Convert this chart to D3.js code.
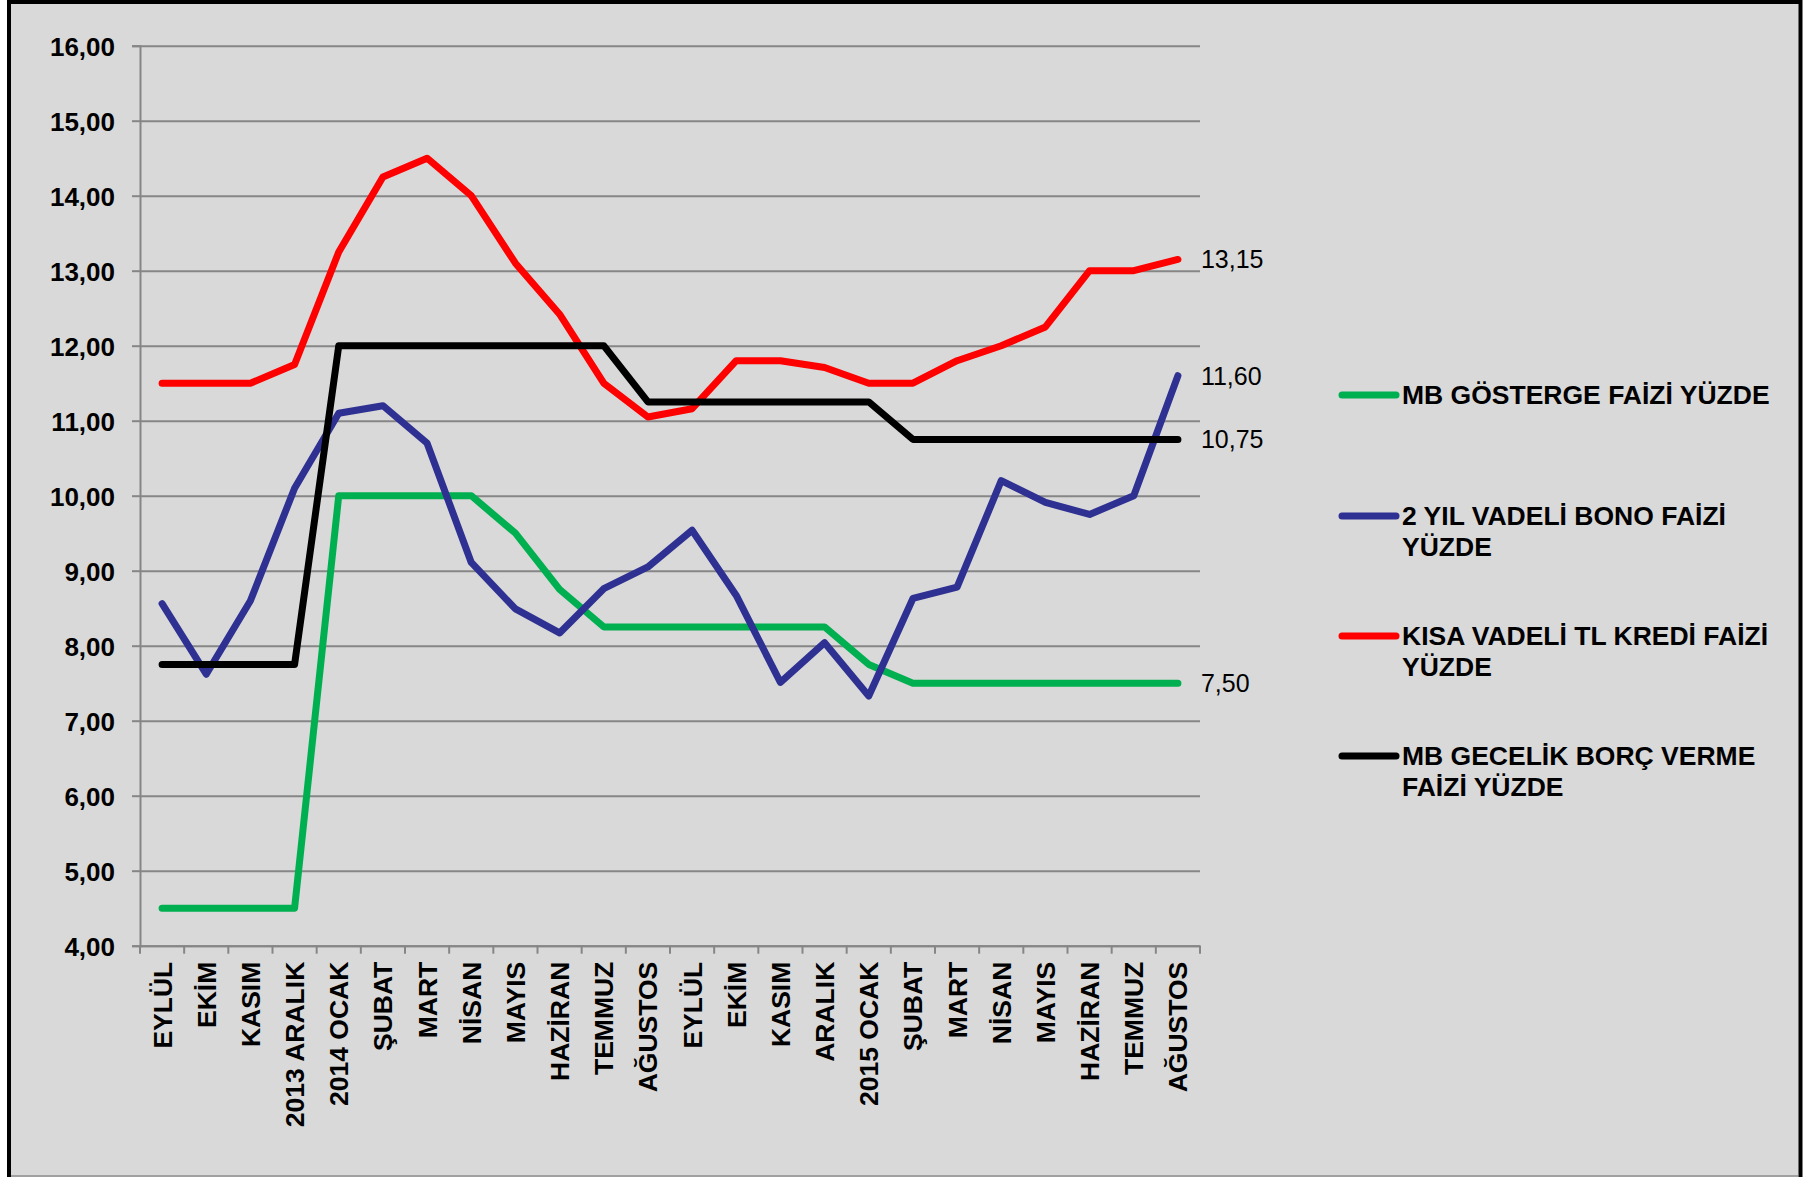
<!DOCTYPE html>
<html>
<head>
<meta charset="utf-8">
<script src="https://cdn.jsdelivr.net/npm/d3@7"></script>
<style>
  html, body { margin: 0; padding: 0; background: #ffffff; }
  svg { display: block; }
</style>
</head>
<body>
<svg id="chart" width="1812" height="1177"></svg>
<script>
const categories = ["EYLÜL","EKİM","KASIM","2013 ARALIK","2014 OCAK","ŞUBAT","MART","NİSAN","MAYIS","HAZİRAN","TEMMUZ","AĞUSTOS",
                    "EYLÜL","EKİM","KASIM","ARALIK","2015 OCAK","ŞUBAT","MART","NİSAN","MAYIS","HAZİRAN","TEMMUZ","AĞUSTOS"];
const gosterge = [4.5,4.5,4.5,4.5,10.0,10.0,10.0,10.0,9.5,8.75,8.25,8.25,8.25,8.25,8.25,8.25,7.75,7.5,7.5,7.5,7.5,7.5,7.5,7.5];
const bono     = [8.56,7.62,8.6,10.1,11.1,11.2,10.7,9.11,8.49,8.17,8.76,9.05,9.54,8.67,7.51,8.04,7.33,8.63,8.78,10.2,9.91,9.75,10.0,11.6];
const kredi    = [11.5,11.5,11.5,11.75,13.25,14.25,14.5,14.0,13.1,12.42,11.5,11.05,11.16,11.8,11.8,11.71,11.5,11.5,11.8,12.0,12.25,13.0,13.0,13.15];
const gecelik  = [7.75,7.75,7.75,7.75,12.0,12.0,12.0,12.0,12.0,12.0,12.0,11.25,11.25,11.25,11.25,11.25,11.25,10.75,10.75,10.75,10.75,10.75,10.75,10.75];
const seriesNames = [["MB GÖSTERGE FAİZİ YÜZDE"],["2 YIL VADELİ BONO FAİZİ","YÜZDE"],["KISA VADELİ TL KREDİ FAİZİ","YÜZDE"],["MB GECELİK BORÇ VERME","FAİZİ YÜZDE"]];
const seriesColors = ["#00b050","#2e3192","#ff0000","#000000"];
const endLabels = ["7,50","11,60","13,15","10,75"];
const yTicks = [4,5,6,7,8,9,10,11,12,13,14,15,16];

const series = [gosterge, bono, kredi, gecelik];
const svg = d3.select("#chart");
const FONT = "'Liberation Sans', Arial, sans-serif";

// background panel with border
svg.append("rect").attr("x",9).attr("y",2).attr("width",1791.5).attr("height",1200)
  .attr("fill","#d9d9d9").attr("stroke","#000").attr("stroke-width",4);
svg.append("line").attr("x1",11).attr("x2",1798).attr("y1",1176).attr("y2",1176)
  .attr("stroke","#8c8c8c").attr("stroke-width",1.5);

const x = d3.scaleBand().domain(d3.range(categories.length)).range([140,1200]).padding(0);
const y = d3.scaleLinear().domain([4,16]).range([945.7,45.7]);
const cx = i => x(i) + x.bandwidth()/2;

// gridlines + y axis
const yAxis = d3.axisLeft(y).tickValues(yTicks).tickSize(8).tickFormat(d => d3.format(".2f")(d).replace(".", ","));
const gy = svg.append("g").attr("transform","translate(140,0)").call(yAxis);
gy.select(".domain").attr("stroke","#868686").attr("stroke-width",2);
gy.selectAll(".tick line").attr("stroke","#868686").attr("stroke-width",2);
gy.selectAll(".tick").append("line").attr("x1",0).attr("x2",1060).attr("stroke","#868686").attr("stroke-width",2);
gy.selectAll(".tick text").attr("x",-25).attr("dy","0.36em")
  .attr("font-family",FONT).attr("font-weight","bold")
  .attr("font-size",26).attr("fill","#000");

// x axis
const xAxis = d3.axisBottom(x).tickSize(0).tickFormat(i => categories[i]);
const gx = svg.append("g").attr("transform","translate(0,945.7)").call(xAxis);
gx.select(".domain").attr("stroke","#868686").attr("stroke-width",2);
gx.selectAll(".tick text")
  .attr("transform","rotate(-90)")
  .attr("x",-16).attr("y",0).attr("dy","0.36em")
  .attr("text-anchor","end")
  .attr("font-family",FONT).attr("font-weight","bold")
  .attr("font-size",26.5).attr("fill","#000");
// category boundary ticks
const bounds = d3.range(categories.length + 1).map(i => 140 + i * x.bandwidth());
gx.selectAll("line.bt").data(bounds).enter().append("line").attr("class","bt")
  .attr("x1",d=>d).attr("x2",d=>d).attr("y1",0).attr("y2",8)
  .attr("stroke","#868686").attr("stroke-width",2);

// lines
const line = d3.line().x((d,i) => cx(i)).y(d => y(d));
series.forEach((s, k) => {
  svg.append("path").datum(s).attr("d", line)
    .attr("fill","none").attr("stroke", seriesColors[k]).attr("stroke-width",7)
    .attr("stroke-linejoin","round").attr("stroke-linecap","round");
});

// end labels
series.forEach((s, k) => {
  const last = s.length - 1;
  svg.append("text").attr("x", cx(last) + 23).attr("y", y(s[last])).attr("dy","0.36em")
    .attr("font-family",FONT).attr("font-size",25).attr("fill","#000")
    .text(endLabels[k]);
});

// legend
const legendY = [395, 516, 636, 756];
seriesNames.forEach((lines, k) => {
  const g = svg.append("g").attr("transform", `translate(0,${legendY[k]})`);
  g.append("line").attr("x1",1342).attr("x2",1396).attr("y1",0).attr("y2",0)
    .attr("stroke", seriesColors[k]).attr("stroke-width",7).attr("stroke-linecap","round");
  lines.forEach((t, j) => {
    g.append("text").attr("x",1402).attr("y", j * 31).attr("dy","0.33em")
      .attr("font-family",FONT).attr("font-weight","bold")
      .attr("font-size",26.5).attr("fill","#000").text(t);
  });
});
</script>
</body>
</html>
